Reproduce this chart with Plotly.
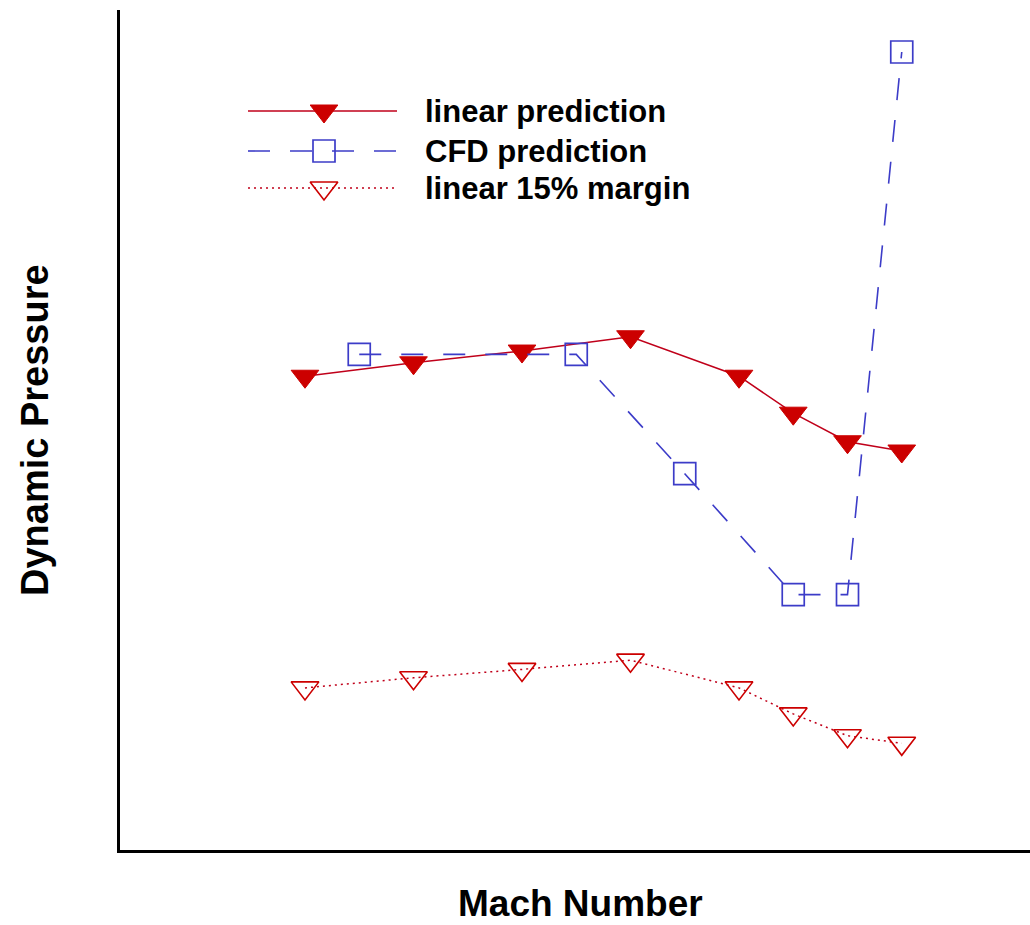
import plotly.graph_objects as go

# ---- data ----
mach_linear = [0.60, 0.70, 0.80, 0.90, 1.00, 1.05, 1.10, 1.15]
q_linear = [56.4, 58.0, 59.4, 61.1, 56.4, 52.0, 48.6, 47.5]

mach_cfd = [0.65, 0.85, 0.95, 1.05, 1.10, 1.15]
q_cfd = [59.0, 59.0, 44.8, 30.4, 30.4, 95.0]

mach_margin = [0.60, 0.70, 0.80, 0.90, 1.00, 1.05, 1.10, 1.15]
q_margin = [19.3, 20.5, 21.5, 22.6, 19.3, 16.2, 13.6, 12.7]

series_names = ["linear prediction", "CFD prediction", "linear 15% margin"]

# ---- styles ----
RED = "#cc0000"
RED_LINE = "#c0001a"
BLUE = "#3c3cc8"
FONT = "Liberation Sans, Arial, Helvetica, sans-serif"

fig = go.Figure()

fig.add_trace(go.Scatter(
    x=mach_linear, y=q_linear, mode="lines+markers", name=series_names[0],
    line=dict(color=RED_LINE, width=1.5),
    marker=dict(symbol="triangle-down", size=24, color=RED,
                line=dict(color=RED, width=1)),
    showlegend=False))

fig.add_trace(go.Scatter(
    x=mach_cfd, y=q_cfd, mode="lines+markers", name=series_names[1],
    line=dict(color=BLUE, width=1.6, dash="22px,20px"),
    marker=dict(symbol="square-open", size=22, color=BLUE,
                line=dict(color=BLUE, width=1.7)),
    showlegend=False))

fig.add_trace(go.Scatter(
    x=mach_margin, y=q_margin, mode="lines+markers", name=series_names[2],
    line=dict(color=RED_LINE, width=1.5, dash="2px,4px"),
    marker=dict(symbol="triangle-down-open", size=24, color=RED,
                line=dict(color=RED, width=1.6)),
    showlegend=False))

# ---- hand-drawn legend on an overlay pixel axis ----
leg_x0, leg_x1, leg_xm = 248, 397, 324
leg_rows = [111, 151, 188]
leg_styles = [
    (dict(color=RED_LINE, width=1.5), dict(symbol="triangle-down", size=24, color=RED, line=dict(color=RED, width=1))),
    (dict(color=BLUE, width=1.6, dash="22px,20px"), dict(symbol="square-open", size=22, color=BLUE, line=dict(color=BLUE, width=1.7))),
    (dict(color=RED_LINE, width=1.5, dash="2px,4px"), dict(symbol="triangle-down-open", size=24, color=RED, line=dict(color=RED, width=1.6))),
]
for yrow, (ln, mk), name in zip(leg_rows, leg_styles, series_names):
    fig.add_trace(go.Scatter(x=[leg_x0, leg_x1], y=[yrow, yrow], mode="lines",
                             line=ln, xaxis="x2", yaxis="y2", showlegend=False,
                             hoverinfo="skip"))
    fig.add_trace(go.Scatter(x=[leg_xm], y=[yrow], mode="markers",
                             marker=mk, xaxis="x2", yaxis="y2", showlegend=False,
                             hoverinfo="skip"))
    fig.add_annotation(x=423, y=yrow, xref="x2", yref="y2", text="<b>%s</b>" % name,
                       showarrow=False, xanchor="left", yanchor="middle",
                       font=dict(family=FONT, size=31, color="black"))

# ---- axis titles ----
fig.add_annotation(x=0.5065, y=-0.0631, xref="paper", yref="paper",
                   text="<b>Mach Number</b>", showarrow=False,
                   xanchor="center", yanchor="middle",
                   font=dict(family=FONT, size=37, color="black"))
fig.add_annotation(x=-0.0934, y=0.5, xref="paper", yref="paper",
                   text="<b>Dynamic Pressure</b>", showarrow=False, textangle=-90,
                   xanchor="center", yanchor="middle",
                   font=dict(family=FONT, size=38, color="black"))

fig.update_layout(
    width=1030, height=925,
    margin=dict(l=120, r=0, t=10, b=75),
    paper_bgcolor="white", plot_bgcolor="white",
    showlegend=False,
    font=dict(family=FONT),
    xaxis=dict(range=[0.4295, 1.2682], showline=True, linecolor="black", linewidth=3,
               showgrid=False, zeroline=False, showticklabels=False, ticks=""),
    yaxis=dict(range=[0, 100], showline=True, linecolor="black", linewidth=3,
               showgrid=False, zeroline=False, showticklabels=False, ticks=""),
    xaxis2=dict(range=[120, 1030], overlaying="x", visible=False, fixedrange=True),
    yaxis2=dict(range=[850, 10], overlaying="y", visible=False, fixedrange=True),
)

fig.write_html("out.html")
